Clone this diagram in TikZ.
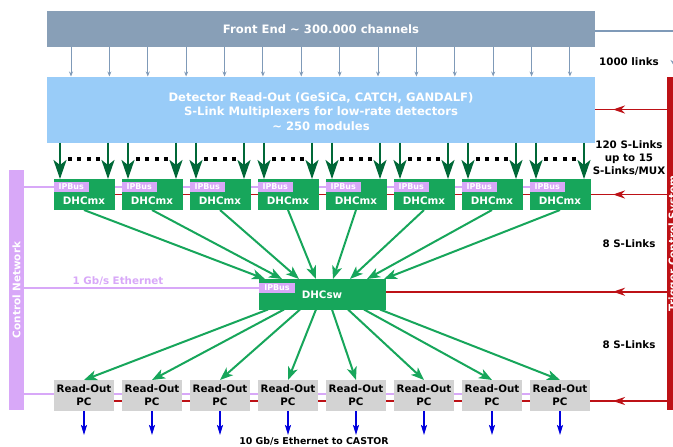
\documentclass[tikz,border=0pt]{standalone}
\usepackage{fontspec}
\setmainfont{DejaVu Sans}
\usetikzlibrary{arrows.meta}

\definecolor{feblue}{HTML}{889FB7}
\definecolor{roblue}{HTML}{99CCF8}
\definecolor{dhcgreen}{HTML}{17A65B}
\definecolor{feedgreen}{HTML}{006837}
\definecolor{pcgrey}{HTML}{D3D3D3}
\definecolor{ctrlviolet}{HTML}{D8A8F8}
\definecolor{tcsred}{HTML}{BD1116}
\definecolor{ethblue}{HTML}{0000DD}
\definecolor{linkgrey}{HTML}{7F9AB8}

\newcommand{\bfsz}[2]{\fontsize{#1}{#2}\selectfont\bfseries}

\pgfdeclarelayer{links}
\pgfsetlayers{links,main}

\begin{document}
\begin{tikzpicture}[x=1pt,y=-1pt,
  blockbox/.style={inner sep=0pt, outer sep=0pt, text=white, align=center},
  dhcbox/.style={blockbox, fill=dhcgreen, minimum width=61pt, minimum height=31pt},
  ipbus/.style={blockbox, fill=ctrlviolet, minimum width=35.5pt, minimum height=10pt, font=\bfsz{8}{9}},
  dhctext/.style={inner sep=0pt, text=white, font=\bfsz{10.3}{12}},
  pcbox/.style={blockbox, fill=pcgrey, text=black, minimum width=60pt, minimum height=31pt, font=\bfsz{10.3}{13}},
  sidelabel/.style={inner sep=0pt, align=center, font=\bfsz{10.3}{12.7}},
  barlabel/.style={inner sep=0pt, text=white, font=\bfsz{10.4}{12}, rotate=90},
  thinlink/.style={draw=linkgrey, line width=1pt, -{Stealth[length=5pt,width=4pt]}},
  feedlink/.style={draw=feedgreen, line width=2.2pt, -{Stealth[length=19pt,width=13pt,inset=5pt]}},
  slink/.style={draw=dhcgreen, line width=2pt, -{Stealth[length=13pt,width=10pt,inset=3.5pt]}},
  tcsline/.style={draw=tcsred, line width=1.8pt},
  tcsarrow/.style={tcsline, -{Stealth[length=12pt,width=8pt,inset=4pt]}},
  ctrlline/.style={draw=ctrlviolet, line width=2pt},
  ethlink/.style={draw=ethblue, line width=1.5pt, -{Stealth[length=10pt,width=6pt,inset=2pt]}},
]
\useasboundingbox (0,0) rectangle (673,447);
\clip (0,0) rectangle (673,447);

% front end and detector read-out
\node[blockbox, fill=feblue, minimum width=548pt, minimum height=36pt, font=\bfsz{11.6}{14}]
  (fe) at (321,29) {Front End \textasciitilde{} 300.000 channels};
\node[blockbox, fill=roblue, minimum width=548pt, minimum height=66pt] (det) at (321,109.5) {};
\node[inner sep=0pt, text=white, align=center, font=\bfsz{11.6}{14.5}]
  (dett) at (321,111.3) {Detector Read-Out (GeSiCa, CATCH, GANDALF)\\S-Link Multiplexers for low-rate detectors\\\textasciitilde{} 250 modules};

% side bars: control network and trigger control system
\node[blockbox, fill=ctrlviolet, minimum width=15pt, minimum height=240pt] (cn) at (16.5,290) {};
\node[barlabel] (cnt) at (cn.center) {Control Network};
\node[blockbox, fill=tcsred, minimum width=14pt, minimum height=333pt] (tcs) at (674,243.5) {};
\node[barlabel] (tcst) at (673.5,243.5) {Trigger Control System};

% multiplexer stage
\foreach \i in {1,...,8}{
  \pgfmathsetmacro\cx{16+68*\i}
  \node[dhcbox] (mx\i) at (\cx,194.5) {};
  \node[ipbus] (mxip\i) at (\cx-12.75,187) {IPBus};
  \node[dhctext] (mxt\i) at (\cx,201) {DHCmx};
}

% switch
\node[dhcbox, minimum width=127pt, minimum height=30.5pt] (sw) at (322.5,294.25) {};
\node[ipbus, minimum width=36pt, minimum height=9.5pt] (swip) at (277,287.75) {IPBus};
\node[dhctext] (swt) at (322,295) {DHCsw};

% read-out computers
\foreach \i in {1,...,8}{
  \pgfmathsetmacro\cx{16+68*\i}
  \node[pcbox] (ro\i) at (\cx,395.5) {Read-Out\\PC};
  \coordinate (eth\i) at ([yshift=-24pt]ro\i.south);
  \draw[ethlink] (ro\i.south) -- (eth\i);
}

% control and trigger distribution lines behind the boxes
\coordinate (rp) at ([yshift=1.5pt]ro1.center);
\coordinate (rr) at ([yshift=-5.5pt]ro1.center);
\coordinate (sr) at ([yshift=2.5pt]sw.east);
\begin{pgfonlayer}{links}
  \draw[ctrlline] (cn.east |- mxip1.center) -- (mxip8.center);
  \draw[ctrlline] (cn.east |- swip.center) -- (swip.west);
  \draw[ctrlline] (cn.east |- rp) -- (rp -| ro8.center);
  \draw[tcsline] (det.east) -- (det.east -| tcs.west);
  \draw[tcsline] (mx1.center) -- (mx1.center -| tcs.west);
  \draw[tcsline] (sr) -- (sr -| tcs.west);
  \draw[tcsline] (rr) -- (rr -| tcs.west);
\end{pgfonlayer}
\draw[tcsarrow] (det.east -| tcs.west) -- ++(-54,0);
\draw[tcsarrow] (mx1.center -| tcs.west) -- ++(-54,0);
\draw[tcsarrow] (sr -| tcs.west) -- ++(-54,0);
\draw[tcsarrow] (rr -| tcs.west) -- ++(-54,0);

% front-end links
\foreach \k in {0,...,13}{
  \pgfmathsetmacro\tx{71+38.38*\k}
  \draw[thinlink] (fe.south -| \tx,0) -- (det.north -| \tx,0);
}
\coordinate (trg) at (674.5,67);
\draw[draw=linkgrey, line width=1.2pt, -{Stealth[length=7pt,width=8pt]}]
  ([yshift=-2pt]fe.east) -| (trg);

% S-Links into the multiplexers
\foreach \i in {1,...,8}{
  \pgfmathsetmacro\cx{16+68*\i}
  \coordinate (fl\i) at ([xshift=6.5pt]mx\i.north west);
  \coordinate (fr\i) at ([xshift=-6.5pt]mx\i.north east);
  \draw[feedlink] (det.south -| fl\i) -- (fl\i);
  \draw[feedlink] (det.south -| fr\i) -- (fr\i);
  \foreach \d in {-14,-4.67,4.67,14}
    \fill (\cx+\d-2,157) rectangle ++(4,4);
}

% S-Links multiplexers -> switch -> read-out PCs
\foreach \i in {1,...,8}{
  \pgfmathsetmacro\ex{6+17*(\i-1)}
  \pgfmathsetmacro\sx{9+16*(\i-1)}
  \draw[slink] (mx\i.south) -- ([xshift=\ex pt]sw.north west);
  \draw[slink] ([xshift=\sx pt]sw.south west) -- (ro\i.north);
}

% labels
\node[sidelabel] (l1000) at (629,62) {1000 links};
\node[sidelabel] (l120) at (629,158) {120 S-Links\\up to 15\\S-Links/MUX};
\node[sidelabel] (l8a) at (629,244) {8 S-Links};
\node[sidelabel] (l8b) at (629,345) {8 S-Links};
\node[sidelabel, font=\bfsz{9.4}{11}] (lcastor) at (314,441) {10 Gb/s Ethernet to CASTOR};
\node[sidelabel, text=ctrlviolet] (leth) at (118,281) {1 Gb/s Ethernet};
\end{tikzpicture}
\end{document}
